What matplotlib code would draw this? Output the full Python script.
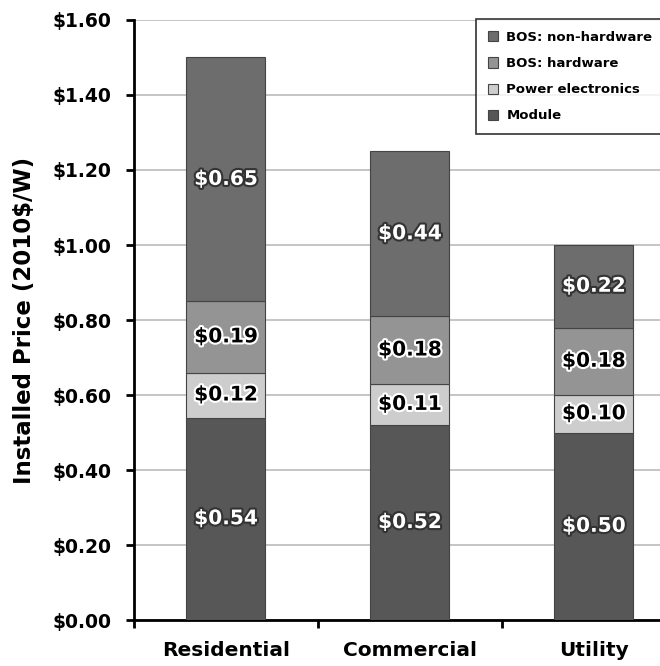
import matplotlib
matplotlib.use("Agg")
from matplotlib import pyplot as plt
import matplotlib.patheffects as pe
import numpy as np

# 数据
categories = ["Residential", "Commercial", "Utility"]
module = [0.54, 0.52, 0.50]
power_electronics = [0.12, 0.11, 0.10]
bos_hardware = [0.19, 0.18, 0.18]
bos_non_hardware = [0.65, 0.44, 0.22]
y_ticks = [0.0, 0.2, 0.4, 0.6, 0.8, 1.0, 1.2, 1.4, 1.6]

series = [
    ("Module", module, "#575757", "white"),
    ("Power electronics", power_electronics, "#cdcdcd", "black"),
    ("BOS: hardware", bos_hardware, "#949494", "black"),
    ("BOS: non-hardware", bos_non_hardware, "#6d6d6d", "white"),
]

plt.rcParams["font.family"] = ["DejaVu Sans"]
plt.rcParams["font.weight"] = "bold"

fig = plt.figure(figsize=(6.6, 6.66), dpi=100)
ax = fig.add_axes([0.203, 0.069, 0.797, 0.901])

x = np.arange(len(categories))
bottom = np.zeros(len(categories))
handles = {}
for name, vals, color, txt in series:
    bars = ax.bar(x, vals, width=0.43, bottom=bottom, color=color,
                  edgecolor="#444444", linewidth=0.8, zorder=3)
    handles[name] = bars
    for xi, b, v in zip(x, bottom, vals):
        stroke = "#333333" if txt == "white" else "white"
        ax.text(xi, b + v / 2, "${:.2f}".format(v), ha="center", va="center",
                fontsize=14.5, fontweight="bold", color=txt, zorder=4,
                path_effects=[pe.withStroke(linewidth=3, foreground=stroke)])
    bottom += np.array(vals)

ax.set_xlim(-0.5, 2.36)
ax.set_ylim(0, 1.6)
ax.set_yticks(y_ticks)
ax.set_yticklabels(["${:.2f}".format(v) for v in y_ticks], fontsize=13.5, fontweight="bold")
ax.set_xticks([-0.5, 0.5, 1.5])
ax.set_xticklabels([])
for xi, c in zip(x, categories):
    ax.text(xi, -0.08, c, ha="center", va="center", fontsize=14.5,
            fontweight="bold", transform=ax.transData, clip_on=False)

ax.yaxis.grid(True, color="#bbbbbb", linewidth=1.2, zorder=0)
ax.set_axisbelow(True)
for s in ["top", "right"]:
    ax.spines[s].set_visible(False)
ax.spines["left"].set_linewidth(2)
ax.spines["bottom"].set_linewidth(2)
ax.tick_params(axis="both", direction="out", length=6, width=2)
ax.tick_params(axis="y", pad=10)

ax.set_ylabel("Installed Price (2010$/W)", fontsize=16.5, fontweight="bold", labelpad=12)

# 图例 (右边框在图外, 和原图一样被裁掉)
order = ["BOS: non-hardware", "BOS: hardware", "Power electronics", "Module"]
leg = fig.legend([handles[n] for n in order], order,
                 loc="upper left", bbox_to_anchor=(476 / 660, 1 - 19 / 666, 200 / 660, 0),
                 mode="expand", frameon=True, fancybox=False, edgecolor="black",
                 handlelength=0.8, handleheight=0.8, borderpad=0.9, borderaxespad=0,
                 labelspacing=1.0, handletextpad=0.6,
                 prop={"weight": "bold", "size": 9.5})
leg.get_frame().set_linewidth(1.2)

plt.savefig("out.png", dpi=100)
